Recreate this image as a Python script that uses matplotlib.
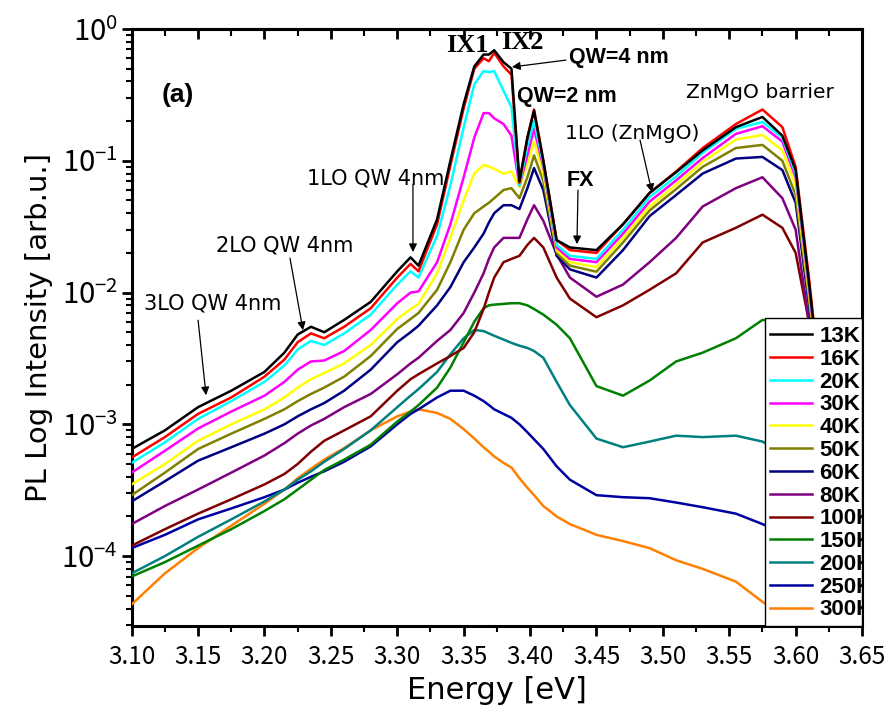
import matplotlib
matplotlib.use('Agg')
import matplotlib.pyplot as plt
from matplotlib.patches import Rectangle
from matplotlib.ticker import MultipleLocator, FormatStrFormatter, LogLocator, NullFormatter

plt.rcParams['font.family'] = ['Noto Sans CJK JP', 'DejaVu Sans']
plt.rcParams['mathtext.fontset'] = 'custom'
plt.rcParams['mathtext.rm'] = 'Noto Sans CJK JP'

# photon energy grid (eV)
energy = [3.100, 3.125, 3.150, 3.175, 3.200, 3.215, 3.225, 3.235, 3.245, 3.260,
          3.280, 3.300, 3.310, 3.316, 3.330, 3.340, 3.350, 3.358, 3.365, 3.369,
          3.373, 3.380, 3.386, 3.392, 3.398, 3.403, 3.410, 3.420, 3.430, 3.450,
          3.470, 3.490, 3.510, 3.530, 3.555, 3.575, 3.590, 3.600, 3.610, 3.620,
          3.635, 3.650]

# PL intensity (arb.u.)
pl_13k = [6.5e-4, 9.0e-4, 1.35e-3, 1.8e-3, 2.5e-3, 3.5e-3, 4.8e-3, 5.5e-3, 5.0e-3, 6.2e-3,
          8.5e-3, 1.45e-2, 1.85e-2, 1.6e-2, 3.6e-2, 0.10, 0.27, 0.52, 0.64, 0.64,
          0.69, 0.56, 0.50, 0.07, 0.15, 0.24, 0.10, 0.025, 0.022, 0.021,
          0.033, 0.057, 0.082, 0.12, 0.18, 0.215, 0.155, 0.085, 0.012, 1.5e-3,
          1e-4, 2e-5]
pl_16k = [5.6e-4, 8.0e-4, 1.2e-3, 1.6e-3, 2.3e-3, 3.1e-3, 4.2e-3, 4.9e-3, 4.5e-3, 5.5e-3,
          7.6e-3, 1.3e-2, 1.65e-2, 1.45e-2, 3.3e-2, 0.092, 0.25, 0.50, 0.60, 0.57,
          0.66, 0.52, 0.45, 0.068, 0.15, 0.245, 0.10, 0.025, 0.021, 0.020,
          0.033, 0.057, 0.083, 0.125, 0.19, 0.245, 0.18, 0.09, 0.013, 1.5e-3,
          1e-4, 2e-5]
pl_20k = [5.1e-4, 7.3e-4, 1.1e-3, 1.5e-3, 2.1e-3, 2.8e-3, 3.7e-3, 4.3e-3, 4.0e-3, 4.9e-3,
          6.8e-3, 1.15e-2, 1.45e-2, 1.3e-2, 2.7e-2, 0.065, 0.18, 0.38, 0.48, 0.47,
          0.48, 0.34, 0.255, 0.065, 0.13, 0.20, 0.095, 0.023, 0.019, 0.018,
          0.030, 0.053, 0.076, 0.115, 0.175, 0.197, 0.15, 0.08, 0.012, 1.4e-3,
          1e-4, 2e-5]
pl_30k = [4.3e-4, 6.3e-4, 9.3e-4, 1.25e-3, 1.65e-3, 2.1e-3, 2.6e-3, 3.0e-3, 3.05e-3, 3.6e-3,
          5.2e-3, 8.3e-3, 1.0e-2, 1.02e-2, 1.7e-2, 0.033, 0.075, 0.15, 0.23, 0.23,
          0.21, 0.19, 0.155, 0.065, 0.11, 0.175, 0.09, 0.022, 0.018, 0.017,
          0.028, 0.049, 0.071, 0.105, 0.16, 0.183, 0.14, 0.075, 0.011, 1.3e-3,
          1e-4, 2e-5]
pl_40k = [3.5e-4, 5.0e-4, 7.5e-4, 1.0e-3, 1.3e-3, 1.6e-3, 1.9e-3, 2.2e-3, 2.45e-3, 2.9e-3,
          4.0e-3, 6.3e-3, 7.5e-3, 8.2e-3, 1.4e-2, 0.026, 0.05, 0.08, 0.093, 0.09,
          0.087, 0.08, 0.083, 0.063, 0.095, 0.14, 0.08, 0.021, 0.017, 0.0156,
          0.026, 0.045, 0.066, 0.098, 0.145, 0.157, 0.12, 0.065, 0.010, 1.3e-3,
          1e-4, 2e-5]
pl_50k = [2.9e-4, 4.3e-4, 6.5e-4, 8.5e-4, 1.1e-3, 1.3e-3, 1.5e-3, 1.7e-3, 1.9e-3, 2.3e-3,
          3.3e-3, 5.3e-3, 6.3e-3, 7.0e-3, 1.05e-2, 0.017, 0.030, 0.040, 0.045, 0.048,
          0.052, 0.060, 0.062, 0.052, 0.075, 0.11, 0.07, 0.020, 0.016, 0.0144,
          0.024, 0.042, 0.061, 0.090, 0.125, 0.132, 0.10, 0.055, 0.009, 1.2e-3,
          1e-4, 2e-5]
pl_60k = [2.6e-4, 3.7e-4, 5.3e-4, 6.7e-4, 8.5e-4, 1.0e-3, 1.15e-3, 1.3e-3, 1.45e-3, 1.8e-3,
          2.6e-3, 4.2e-3, 5.0e-3, 5.6e-3, 8.0e-3, 0.011, 0.017, 0.022, 0.028, 0.034,
          0.040, 0.046, 0.046, 0.043, 0.062, 0.088, 0.06, 0.019, 0.015, 0.013,
          0.021, 0.038, 0.055, 0.080, 0.104, 0.107, 0.085, 0.048, 0.008, 1.1e-3,
          1e-4, 2e-5]
pl_80k = [1.75e-4, 2.4e-4, 3.2e-4, 4.3e-4, 5.8e-4, 7.2e-4, 8.5e-4, 9.8e-4, 1.1e-3, 1.35e-3,
          1.7e-3, 2.4e-3, 2.9e-3, 3.2e-3, 4.3e-3, 5.2e-3, 7.0e-3, 1.0e-2, 1.4e-2, 1.8e-2,
          2.2e-2, 2.6e-2, 2.6e-2, 2.6e-2, 3.6e-2, 4.6e-2, 3.5e-2, 1.95e-2, 1.3e-2, 9.3e-3,
          1.15e-2, 1.7e-2, 2.6e-2, 4.5e-2, 6.2e-2, 7.5e-2, 5.2e-2, 3.0e-2, 6.0e-3, 1.0e-3,
          1e-4, 2e-5]
pl_100k = [1.2e-4, 1.6e-4, 2.1e-4, 2.7e-4, 3.5e-4, 4.2e-4, 5.0e-4, 6.2e-4, 7.5e-4, 9.0e-4,
           1.15e-3, 1.8e-3, 2.2e-3, 2.4e-3, 2.9e-3, 3.3e-3, 3.8e-3, 5.0e-3, 7.5e-3, 1.0e-2,
           1.3e-2, 1.7e-2, 1.8e-2, 1.9e-2, 2.3e-2, 2.6e-2, 2.2e-2, 1.3e-2, 9.0e-3, 6.5e-3,
           8.0e-3, 1.05e-2, 1.4e-2, 2.4e-2, 3.1e-2, 3.9e-2, 3.1e-2, 2.0e-2, 6.0e-3, 1.0e-3,
           1e-4, 2e-5]
pl_150k = [7.0e-5, 9.0e-5, 1.2e-4, 1.6e-4, 2.2e-4, 2.7e-4, 3.2e-4, 3.8e-4, 4.5e-4, 5.4e-4,
           7.0e-4, 1.05e-3, 1.25e-3, 1.4e-3, 1.9e-3, 2.7e-3, 4.2e-3, 6.0e-3, 7.6e-3, 8.0e-3,
           8.1e-3, 8.2e-3, 8.3e-3, 8.3e-3, 8.0e-3, 7.5e-3, 6.8e-3, 5.7e-3, 4.5e-3, 1.95e-3,
           1.65e-3, 2.15e-3, 3.0e-3, 3.5e-3, 4.5e-3, 6.2e-3, 6.0e-3, 4.0e-3, 1.5e-3, 4e-4,
           5e-5, 1e-5]
pl_200k = [7.4e-5, 1.0e-4, 1.4e-4, 1.9e-4, 2.6e-4, 3.2e-4, 3.8e-4, 4.4e-4, 5.2e-4, 6.5e-4,
           9.0e-4, 1.35e-3, 1.65e-3, 1.85e-3, 2.5e-3, 3.4e-3, 4.5e-3, 5.2e-3, 5.1e-3, 4.9e-3,
           4.7e-3, 4.4e-3, 4.15e-3, 3.95e-3, 3.8e-3, 3.6e-3, 3.2e-3, 2.1e-3, 1.4e-3, 7.8e-4,
           6.7e-4, 7.4e-4, 8.2e-4, 8.0e-4, 8.2e-4, 7.4e-4, 6.0e-4, 4e-4, 2e-4, 8e-5,
           2e-5, 1e-5]
pl_250k = [1.15e-4, 1.45e-4, 1.9e-4, 2.3e-4, 2.8e-4, 3.2e-4, 3.6e-4, 4.0e-4, 4.4e-4, 5.2e-4,
           6.8e-4, 1.0e-3, 1.2e-3, 1.3e-3, 1.6e-3, 1.8e-3, 1.8e-3, 1.65e-3, 1.5e-3, 1.4e-3,
           1.3e-3, 1.2e-3, 1.12e-3, 1.0e-3, 8.7e-4, 7.7e-4, 6.5e-4, 4.8e-4, 3.8e-4, 2.9e-4,
           2.8e-4, 2.75e-4, 2.55e-4, 2.35e-4, 2.1e-4, 1.75e-4, 1.5e-4, 1.2e-4, 9e-5, 6e-5,
           3e-5, 1.5e-5]
pl_300k = [4.3e-5, 7.4e-5, 1.15e-4, 1.7e-4, 2.5e-4, 3.2e-4, 3.9e-4, 4.6e-4, 5.4e-4, 6.6e-4,
           9.0e-4, 1.15e-3, 1.25e-3, 1.3e-3, 1.22e-3, 1.1e-3, 9.2e-4, 7.8e-4, 6.7e-4, 6.2e-4,
           5.7e-4, 5.1e-4, 4.7e-4, 3.9e-4, 3.3e-4, 2.9e-4, 2.4e-4, 2.0e-4, 1.75e-4, 1.45e-4,
           1.3e-4, 1.15e-4, 9.3e-5, 8.0e-5, 6.4e-5, 4.5e-5, 3.5e-5, 3e-5, 2.5e-5, 2e-5,
           1.5e-5, 1e-5]

temps = ['13K', '16K', '20K', '30K', '40K', '50K', '60K', '80K', '100K', '150K', '200K', '250K', '300K']
spectra = [pl_13k, pl_16k, pl_20k, pl_30k, pl_40k, pl_50k, pl_60k, pl_80k, pl_100k,
           pl_150k, pl_200k, pl_250k, pl_300k]
colors = ['#000000', '#FF0000', '#00FFFF', '#FF00FF', '#FFFF00', '#808000', '#000080',
          '#800080', '#800000', '#008000', '#008080', '#0000A0', '#FF8000']

fig = plt.figure(figsize=(8.91, 7.2), dpi=100)
ax = fig.add_axes([0.1478, 0.1306, 0.8197, 0.8291])

lines = []
for i in range(len(temps)):
    ln, = ax.plot(energy, spectra[i], color=colors[i], lw=1.8, label=temps[i],
                  zorder=20 - i)
    lines.append(ln)

ax.set_yscale('log')
ax.set_xlim(3.10, 3.65)
ax.set_ylim(2.95e-5, 1.0)

ax.xaxis.set_major_locator(MultipleLocator(0.05))
ax.xaxis.set_minor_locator(MultipleLocator(0.025))
ax.xaxis.set_major_formatter(FormatStrFormatter('%.2f'))
ax.yaxis.set_major_locator(LogLocator(base=10, numticks=10))
ax.yaxis.set_minor_locator(LogLocator(base=10, subs=range(2, 10), numticks=20))
ax.yaxis.set_minor_formatter(NullFormatter())

for sp in ax.spines.values():
    sp.set_linewidth(2.2)
ax.tick_params(axis='both', which='major', direction='out', length=7, width=2)
ax.tick_params(axis='both', which='minor', direction='out', length=4, width=1.5)
ax.tick_params(axis='x', which='major', pad=6, labelsize=17.5)
ax.tick_params(axis='y', which='major', pad=3, labelsize=21)

# ticks on the top edge point inward
top = ax.secondary_xaxis('top')
top.xaxis.set_major_locator(MultipleLocator(0.05))
top.xaxis.set_minor_locator(MultipleLocator(0.025))
top.tick_params(which='major', direction='in', length=7, width=2, labeltop=False)
top.tick_params(which='minor', direction='in', length=5, width=1.5)
top.spines['top'].set_linewidth(2.2)

ax.set_xlabel('Energy [eV]', fontsize=22, labelpad=4, family=['DejaVu Sans'])
ax.set_ylabel('PL Log Intensity [arb.u.]', fontsize=21, labelpad=6, family=['DejaVu Sans'])

# annotations
arrow = dict(arrowstyle='-|>', color='black', lw=0.9, mutation_scale=12, shrinkA=0, shrinkB=0)
note_font = ['DejaVu Sans']
ax.text(3.1349, 0.315, '(a)', fontsize=19, fontweight='bold', ha='center', va='center',
        family=['Liberation Sans', 'DejaVu Sans'])
ax.text(3.3526, 0.756, 'IX1', fontsize=19, fontweight='bold', ha='center', va='center',
        family=['Liberation Serif'])
ax.text(3.3939, 0.797, 'IX2', fontsize=19, fontweight='bold', ha='center', va='center',
        family=['Liberation Serif'])
ax.text(3.4671, 0.603, 'QW=4 nm', fontsize=15.5, fontweight='bold', ha='center', va='center',
        family=['Liberation Sans'])
ax.annotate('', xy=(3.3864, 0.515), xytext=(3.4270, 0.581), arrowprops=arrow)
ax.text(3.4279, 0.305, 'QW=2 nm', fontsize=15.5, fontweight='bold', ha='center', va='center',
        family=['Liberation Sans'])
ax.text(3.5731, 0.327, 'ZnMgO barrier', fontsize=14.6, ha='center', va='center', family=note_font)
ax.text(3.4768, 0.162, '1LO (ZnMgO)', fontsize=14.6, ha='center', va='center', family=note_font)
ax.annotate('', xy=(3.4918, 0.0578), xytext=(3.4828, 0.1436), arrowprops=arrow)
ax.text(3.4376, 0.0714, 'FX', fontsize=15.5, fontweight='bold', ha='center', va='center',
        family=['Liberation Sans'])
ax.annotate('', xy=(3.4353, 0.0233), xytext=(3.4361, 0.0599), arrowprops=arrow)
ax.text(3.2840, 0.0739, '1LO QW 4nm', fontsize=15, ha='center', va='center', family=note_font)
ax.annotate('', xy=(3.3118, 0.0203), xytext=(3.3118, 0.0665), arrowprops=arrow)
ax.text(3.2154, 0.0229, '2LO QW 4nm', fontsize=15, ha='center', va='center', family=note_font)
ax.annotate('', xy=(3.2290, 0.00518), xytext=(3.2192, 0.01824), arrowprops=arrow)
ax.text(3.1613, 0.00831, '3LO QW 4nm', fontsize=15, ha='center', va='center', family=note_font)
ax.annotate('', xy=(3.1560, 0.001663), xytext=(3.1500, 0.00617), arrowprops=arrow)

# legend box sits in the lower-right corner; labels run up to the axes edge
leg_x0, leg_h = 0.867, 0.516
ax.add_patch(Rectangle((leg_x0, 0), 1 - leg_x0, leg_h, transform=ax.transAxes,
                       facecolor='white', edgecolor='black', lw=1.0, zorder=29))
leg = ax.legend(handles=lines, loc='lower left', bbox_to_anchor=(leg_x0, 0.0),
                borderaxespad=0, frameon=False,
                prop={'family': 'Liberation Sans', 'weight': 'bold', 'size': 16},
                handlelength=1.85, handletextpad=0.36, labelspacing=0.08,
                borderpad=0.25)
leg.set_zorder(30)
for t in leg.get_texts():
    t.set_clip_box(ax.bbox)
    t.set_clip_on(True)

fig.savefig('out.png', dpi=100)
